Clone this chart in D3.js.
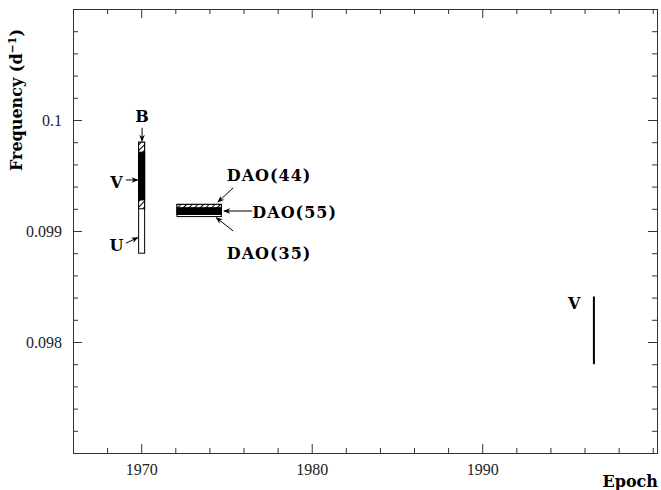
<!DOCTYPE html>
<html>
<head>
<meta charset="utf-8">
<script src="https://cdn.jsdelivr.net/npm/d3@7"></script>
<style>
  body { margin: 0; background: #fff; }
  svg { display: block; }
  .tick text { font-family: "Liberation Serif", serif; font-size: 16px; fill: #222; }
  .lbl { font-family: "DejaVu Serif", serif; font-weight: bold; font-size: 16px; fill: #000; }
</style>
</head>
<body>
<svg id="chart"></svg>
<script>
// bars: epoch span [x0, x1], frequency span [y0, y1], drawn in order
const barNames = ['U', 'B', 'V', 'DAO(35)', 'DAO(44)', 'DAO(55)'];
const barEpoch = [[1969.85, 1970.2], [1969.85, 1970.2], [1969.85, 1970.2],
                  [1972.1, 1974.7], [1972.1, 1974.7], [1972.1, 1974.7]];
const barFreq = [[0.09880, 0.09980], [0.09920, 0.09980], [0.09928, 0.09971],
                 [0.09913, 0.09924], [0.09915, 0.09924], [0.09915, 0.09921]];
const barFill = ['white', 'hatch', 'black', 'white', 'hatch', 'black'];

// the single recent V measurement
const lineEpoch = 1996.55;
const lineFreq = [0.09780, 0.09841];

const xMajor = [1970, 1980, 1990];
const yMajor = [0.098, 0.099, 0.1];

// labels: text, anchor point (epoch, freq), arrow from/to
const labels = [
  { t: 'B', x: 1970.05, y: 0.10003, a: [1970.05, 0.09993, 1970.05, 0.09981] },
  { t: 'V', x: 1968.55, y: 0.09944, a: [1969.1, 0.09946, 1969.8, 0.09946] },
  { t: 'U', x: 1968.55, y: 0.09887, a: [1969.1, 0.09889, 1969.8, 0.09894] },
  { t: 'DAO(44)', x: 1977.5, y: 0.09950, a: [1975.4, 0.09939, 1974.5, 0.09926] },
  { t: 'DAO(55)', x: 1979.0, y: 0.09917, a: [1976.5, 0.09918, 1974.85, 0.09918] },
  { t: 'DAO(35)', x: 1977.5, y: 0.09880, a: [1975.4, 0.09900, 1974.4, 0.09912] },
  { t: 'V', x: 1995.4, y: 0.09835, a: null }
];

const width = 661, height = 490;
const margin = { left: 73, right: 4, top: 9, bottom: 37 };

const svg = d3.select('#chart').attr('width', width).attr('height', height);

const x = d3.scaleLinear().domain([1966, 2000.25]).range([margin.left, width - margin.right]);
const y = d3.scaleLinear().domain([0.097, 0.101]).range([height - margin.bottom, margin.top]);

const defs = svg.append('defs');
const pat = defs.append('pattern').attr('id', 'hatch').attr('patternUnits', 'userSpaceOnUse')
  .attr('width', 4).attr('height', 4).attr('patternTransform', 'rotate(45)');
pat.append('rect').attr('width', 4).attr('height', 4).attr('fill', 'white');
pat.append('line').attr('x1', 0).attr('y1', 0).attr('x2', 0).attr('y2', 4)
  .attr('stroke', 'black').attr('stroke-width', 2);

defs.append('marker').attr('id', 'arr').attr('viewBox', '0 0 10 10').attr('refX', 9).attr('refY', 5)
  .attr('markerWidth', 7).attr('markerHeight', 7).attr('orient', 'auto')
  .append('path').attr('d', 'M0,1 L10,5 L0,9 L3,5 Z').attr('fill', 'black');

const xMinor = d3.range(1966, 2001, 2).filter(d => !xMajor.includes(d));
const yMinor = d3.range(0.0972, 0.1009, 0.0002).map(d => +d.toFixed(4)).filter(d => !yMajor.includes(d));

function axisPair(scale, axisFn, major, minor, transform, labelsOn) {
  let g = svg.append('g').attr('transform', transform);
  g.call(axisFn(scale).tickValues(minor).tickSize(-5).tickFormat(''));
  let g2 = svg.append('g').attr('transform', transform);
  g2.call(axisFn(scale).tickValues(major).tickSize(-9).tickPadding(labelsOn ? 16 : 0)
    .tickFormat(labelsOn ? (d => d3.format('')(d)) : ''));
  [g, g2].forEach(s => {
    s.select('.domain').attr('stroke', '#333');
    s.selectAll('.tick line').attr('stroke', '#333');
  });
  return g2;
}

const bx = axisPair(x, d3.axisBottom, xMajor, xMinor, `translate(0,${y(0.097)})`, true);
bx.selectAll('.tick text').attr('dy', '0.4em');
axisPair(x, d3.axisTop, xMajor, xMinor, `translate(0,${y(0.101)})`, false);
const ly = axisPair(y, d3.axisLeft, yMajor, yMinor, `translate(${x(1966)},0)`, true);
ly.selectAll('.tick text').attr('dx', '5');
axisPair(y, d3.axisRight, yMajor, yMinor, `translate(${x(2000.25)},0)`, false);

// bars
svg.append('g').selectAll('rect').data(barNames).join('rect')
  .attr('x', (d, i) => x(barEpoch[i][0]))
  .attr('width', (d, i) => x(barEpoch[i][1]) - x(barEpoch[i][0]))
  .attr('y', (d, i) => y(barFreq[i][1]))
  .attr('height', (d, i) => y(barFreq[i][0]) - y(barFreq[i][1]))
  .attr('fill', (d, i) => barFill[i] === 'hatch' ? 'url(#hatch)' : barFill[i])
  .attr('stroke', 'black').attr('stroke-width', 1);

svg.append('line')
  .attr('x1', x(lineEpoch)).attr('x2', x(lineEpoch))
  .attr('y1', y(lineFreq[0])).attr('y2', y(lineFreq[1]))
  .attr('stroke', 'black').attr('stroke-width', 2);

// labels and arrows
const lg = svg.append('g');
labels.forEach(l => {
  lg.append('text').attr('class', 'lbl')
    .attr('x', x(l.x)).attr('y', y(l.y))
    .attr('text-anchor', 'middle').attr('dominant-baseline', 'central')
    .attr('letter-spacing', l.t.length > 1 ? 1 : 0)
    .text(l.t);
  if (l.a) {
    lg.append('line')
      .attr('x1', x(l.a[0])).attr('y1', y(l.a[1]))
      .attr('x2', x(l.a[2])).attr('y2', y(l.a[3]))
      .attr('stroke', 'black').attr('stroke-width', 1)
      .attr('marker-end', 'url(#arr)');
  }
});

// axis titles
const yt = svg.append('text').attr('class', 'lbl')
  .attr('transform', 'translate(22,100) rotate(-90)')
  .attr('text-anchor', 'middle');
yt.append('tspan').text('Frequency (d');
yt.append('tspan').attr('dy', -6).attr('font-size', 11).text('\u22121');
yt.append('tspan').attr('dy', 6).text(')');

svg.append('text').attr('class', 'lbl')
  .attr('x', 658).attr('y', 487).attr('text-anchor', 'end')
  .text('Epoch');
</script>
</body>
</html>
